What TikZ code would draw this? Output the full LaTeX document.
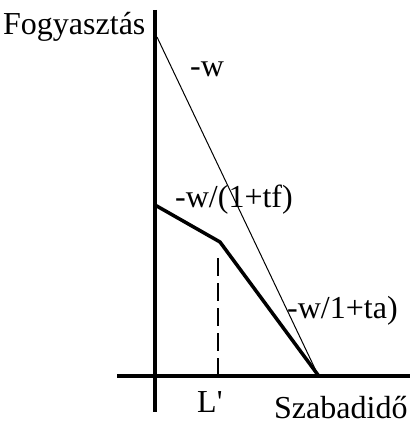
\documentclass[tikz,border=0pt]{standalone}
\usepackage{fontspec}
\setmainfont{Liberation Serif}
\usepackage{tikz}

\begin{document}
\begin{tikzpicture}[
        x=1pt, y=-1pt,
        axis/.style={line width=4pt, draw=black},
        budget/.style={line width=1pt, draw=black},
        kinked/.style={line width=3.5pt, draw=black, line join=miter},
        guide/.style={line width=1.5pt, draw=black, dash pattern=on 18pt off 7pt},
        lbl/.style={anchor=base west, inner sep=0pt, font=\fontsize{32}{34}\selectfont}
    ]
        \useasboundingbox (0,0) rectangle (410,425);
        \coordinate (ytop) at (155,10);
        \coordinate (ybot) at (155,412);
        \coordinate (xleft) at (117,376);
        \coordinate (xright) at (410,376);
        \coordinate (wtop) at (157,37);
        \coordinate (tfstart) at (155,205);
        \coordinate (kink) at (220,242);
        \coordinate (end) at (318,375);
        \coordinate (dtop) at (218,258);
        \coordinate (dbot) at (218,376);

        \node[lbl] (fy) at (3,35) {Fogyasztás};
        \node[lbl] (lw) at (190,77) {-w};
        \node[lbl] (ltf) at (175,207) {-w/(1+tf)};
        \node[lbl] (lta) at (287,318) {-w/1+ta)};
        \node[lbl] (lp) at (197,412) {L\textquotesingle};
        \node[lbl] (sz) at (274,418) {Szabadidő};

        \draw[axis] (ytop) -- (ybot);
        \draw[axis] (xleft) -- (xright);
        \draw[budget] (wtop) -- (end);
        \draw[guide] (dtop) -- (dbot);
        \draw[kinked] (tfstart) -- (kink) -- (end);
    \end{tikzpicture}
\end{document}
